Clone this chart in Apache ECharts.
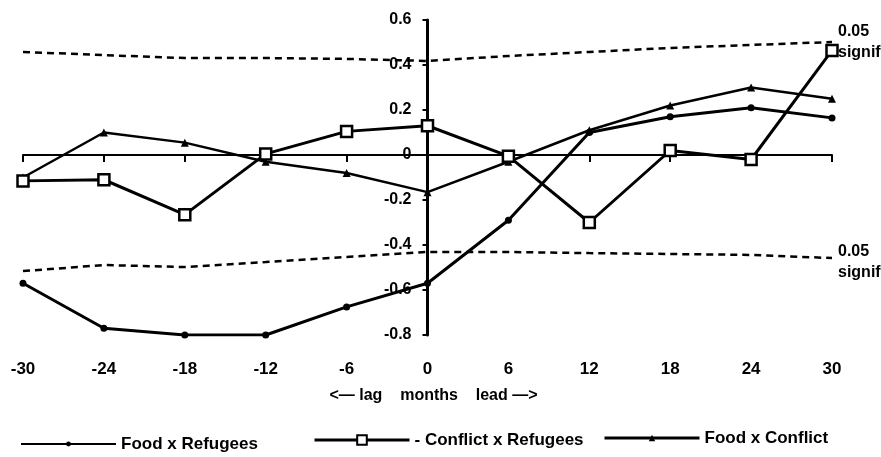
<!DOCTYPE html>
<html>
<head>
<meta charset="utf-8">
<script src="https://cdn.jsdelivr.net/npm/echarts@6/dist/echarts.min.js"></script>
<style>
  html, body { margin: 0; padding: 0; background: #fff; }
  #chart { width: 881px; height: 457px; }
</style>
</head>
<body>
<div id="chart"></div>
<script>
// ---- data ----
const lags = [-30, -24, -18, -12, -6, 0, 6, 12, 18, 24, 30];
const foodRefugees     = [-0.57, -0.77, -0.80, -0.80, -0.675, -0.57, -0.29, 0.10, 0.17, 0.21, 0.165];
const conflictRefugees = [-0.115, -0.11, -0.265, 0.005, 0.105, 0.13, -0.005, -0.30, 0.02, -0.02, 0.465];
const foodConflict     = [-0.10, 0.10, 0.055, -0.03, -0.08, -0.165, -0.03, 0.11, 0.22, 0.30, 0.25];
const sigUpper = [0.458, 0.444, 0.431, 0.431, 0.427, 0.418, 0.44, 0.458, 0.476, 0.489, 0.502];
const sigLower = [-0.516, -0.489, -0.498, -0.476, -0.453, -0.431, -0.431, -0.436, -0.44, -0.444, -0.458];
const seriesNames = ['Food x Refugees', 'Conflict x Refugees', 'Food x Conflict'];
const sigText = '0.05\nsignif';
const axisTitle = '<— lag    months    lead —>';

const pairs = arr => lags.map((x, i) => [x, arr[i]]);
const FONT = '"Liberation Sans", Arial, sans-serif';
const txt = (size) => ({ color: '#000', fontFamily: FONT, fontWeight: 'bold', fontSize: size });

const GRID = { left: 23, right: 49, top: 20, bottom: 122 };
const W = 881;
// the y-axis labels sit beside the axis line, which crosses x = 0 (middle of -30..30)
const yLabelOffset = -((W - GRID.left - GRID.right) / 2);

const chart = echarts.init(document.getElementById('chart'), null, { renderer: 'canvas' });

const sigSeries = (data, offY) => ({
  type: 'line', data: pairs(data), symbol: 'none', silent: true,
  lineStyle: { color: '#000', width: 2.5, type: [7, 5] },
  endLabel: Object.assign({ show: true, formatter: sigText, distance: 6, lineHeight: 21, offset: [0, offY] }, txt(16)),
  z: 1
});

const option = {
  backgroundColor: '#fff',
  animation: false,
  grid: Object.assign({ containLabel: false, outerBoundsMode: 'none' }, GRID),
  xAxis: [
    { type: 'value', min: -30, max: 30, interval: 6,
      axisLine: { onZero: true, onZeroAxisIndex: 0, lineStyle: { color: '#000', width: 2 } },
      axisTick: { show: true, inside: false, length: 7, lineStyle: { color: '#000', width: 2 } },
      axisLabel: { show: false }, splitLine: { show: false } },
    { type: 'value', min: -30, max: 30, interval: 6,
      axisLine: { show: false, onZero: true, onZeroAxisIndex: 1 },
      axisTick: { show: true, inside: true, length: 7, lineStyle: { color: '#000', width: 2 } },
      axisLabel: { show: false }, splitLine: { show: false } },
    { type: 'value', min: -30, max: 30, interval: 6, position: 'bottom',
      axisLine: { show: false, onZero: false }, axisTick: { show: false },
      axisLabel: Object.assign({ show: true, margin: 26 }, txt(17)),
      splitLine: { show: false },
      name: axisTitle, nameLocation: 'middle', nameGap: 53,
      nameTextStyle: Object.assign({ padding: [0, 0, 0, 12] }, txt(16)) }
  ],
  yAxis: [
    { type: 'value', min: -0.8, max: 0.6, interval: 0.2,
      axisLine: { show: true, onZero: true, onZeroAxisIndex: 0, lineStyle: { color: '#000', width: 3 } },
      axisTick: { show: true, inside: false, length: 5, lineStyle: { color: '#000', width: 2 } },
      axisLabel: { show: false },
      splitLine: { show: false } },
    { type: 'value', min: -0.8, max: 0.6, interval: 0.2,
      axisLine: { show: false, onZero: true, onZeroAxisIndex: 1 },
      axisTick: { show: true, inside: true, length: 5, lineStyle: { color: '#000', width: 2 } },
      axisLabel: { show: false }, splitLine: { show: false } },
    { type: 'value', min: -0.8, max: 0.6, interval: 0.2, position: 'left', offset: yLabelOffset,
      axisLine: { show: false, onZero: false }, axisTick: { show: false },
      axisLabel: Object.assign({ show: true, margin: 16 }, txt(16)),
      splitLine: { show: false } }
  ],
  legend: [
    { data: [seriesNames[0]], left: 20, top: 434, padding: 0, itemWidth: 95, itemHeight: 6,
      lineStyle: { width: 2 }, textStyle: Object.assign({ lineHeight: 20 }, txt(17)) },
    { data: [seriesNames[1]], left: 313, top: 430, padding: 0, itemWidth: 95, itemHeight: 12,
      lineStyle: { width: 3 },
      formatter: n => '- ' + n,
      textStyle: Object.assign({ lineHeight: 20 }, txt(17)) },
    { data: [seriesNames[2]], left: 603, top: 428, padding: 0, itemWidth: 95, itemHeight: 8,
      lineStyle: { width: 3 }, textStyle: Object.assign({ lineHeight: 20 }, txt(17)) }
  ],
  series: [
    sigSeries(sigUpper, 0),
    sigSeries(sigLower, 4),
    { name: seriesNames[0], type: 'line', data: pairs(foodRefugees),
      symbol: 'circle', symbolSize: 7,
      lineStyle: { color: '#000', width: 3 }, itemStyle: { color: '#000' }, z: 3 },
    { name: seriesNames[1], type: 'line', data: pairs(conflictRefugees),
      symbol: 'rect', symbolSize: 11,
      lineStyle: { color: '#000', width: 3 },
      itemStyle: { color: '#fff', borderColor: '#000', borderWidth: 2.5 }, z: 4 },
    { name: seriesNames[2], type: 'line', data: pairs(foodConflict),
      symbol: 'triangle', symbolSize: 8,
      lineStyle: { color: '#000', width: 2.5 }, itemStyle: { color: '#000' }, z: 3 }
  ]
};
chart.setOption(option);
</script>
</body>
</html>
